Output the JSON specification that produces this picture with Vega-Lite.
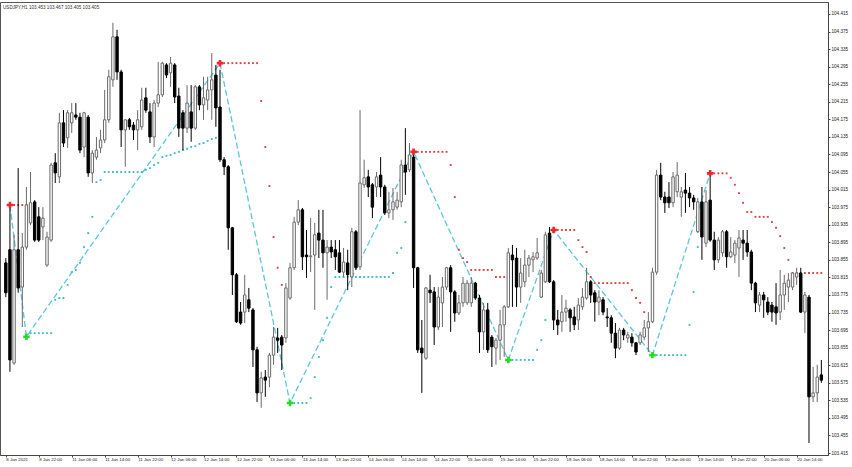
{
"$schema":"https://vega.github.io/schema/vega-lite/v6.json",
"width":828,"height":453,
"autosize":{"type":"none"},
"padding":{"left":0,"top":2,"right":24,"bottom":12},
"background":"#ffffff",
"title":{"text":"USDJPY,H1  103.453 103.467 103.405 103.405","anchor":"start","frame":"group","orient":"top","baseline":"top","offset":-8,"dx":3,"fontSize":4.6,"font":"Liberation Sans","fontWeight":"normal","color":"#333333"},
"config":{"view":{"stroke":"#555555","strokeWidth":1},"axis":{"grid":false,"domainColor":"#444444","tickColor":"#444444","labelFont":"Liberation Sans","labelColor":"#222222","title":null}},
"resolve":{"scale":{"color":"independent"}},
"datasets":{
"candles":[
{"i":0,"o":103.848,"h":103.859,"l":103.770,"c":103.780},
{"i":1,"o":103.878,"h":103.973,"l":103.600,"c":103.627},
{"i":2,"o":103.620,"h":103.912,"l":103.616,"c":103.878},
{"i":3,"o":103.878,"h":104.064,"l":103.780,"c":103.791},
{"i":4,"o":103.793,"h":103.916,"l":103.702,"c":103.884},
{"i":5,"o":103.884,"h":104.021,"l":103.878,"c":103.980},
{"i":6,"o":103.939,"h":104.055,"l":103.934,"c":103.985},
{"i":7,"o":103.987,"h":103.991,"l":103.896,"c":103.900},
{"i":8,"o":103.953,"h":103.975,"l":103.896,"c":103.900},
{"i":9,"o":103.930,"h":103.975,"l":103.900,"c":103.950},
{"i":10,"o":103.843,"h":103.919,"l":103.839,"c":103.907},
{"i":11,"o":103.900,"h":104.076,"l":103.896,"c":104.071},
{"i":12,"o":104.076,"h":104.098,"l":104.030,"c":104.053},
{"i":13,"o":104.044,"h":104.190,"l":104.030,"c":104.167},
{"i":14,"o":104.167,"h":104.196,"l":104.112,"c":104.121},
{"i":15,"o":104.133,"h":104.196,"l":104.110,"c":104.190},
{"i":16,"o":104.167,"h":104.212,"l":104.144,"c":104.190},
{"i":17,"o":104.185,"h":104.212,"l":104.174,"c":104.180},
{"i":18,"o":104.180,"h":104.190,"l":104.098,"c":104.105},
{"i":19,"o":104.112,"h":104.192,"l":104.089,"c":104.190},
{"i":20,"o":104.180,"h":104.185,"l":104.044,"c":104.053},
{"i":21,"o":104.053,"h":104.105,"l":104.030,"c":104.098},
{"i":22,"o":104.089,"h":104.135,"l":104.083,"c":104.105},
{"i":23,"o":104.110,"h":104.151,"l":104.098,"c":104.128},
{"i":24,"o":104.128,"h":104.242,"l":104.121,"c":104.174},
{"i":25,"o":104.174,"h":104.288,"l":104.167,"c":104.272},
{"i":26,"o":104.265,"h":104.395,"l":104.249,"c":104.363},
{"i":27,"o":104.363,"h":104.379,"l":104.265,"c":104.283},
{"i":28,"o":104.283,"h":104.288,"l":104.112,"c":104.151},
{"i":29,"o":104.151,"h":104.174,"l":104.067,"c":104.174},
{"i":30,"o":104.174,"h":104.178,"l":104.151,"c":104.158},
{"i":31,"o":104.162,"h":104.169,"l":104.128,"c":104.151},
{"i":32,"o":104.151,"h":104.196,"l":104.105,"c":104.174},
{"i":33,"o":104.158,"h":104.247,"l":104.151,"c":104.219},
{"i":34,"o":104.224,"h":104.247,"l":104.190,"c":104.196},
{"i":35,"o":104.192,"h":104.212,"l":104.121,"c":104.135},
{"i":36,"o":104.135,"h":104.219,"l":104.112,"c":104.212},
{"i":37,"o":104.212,"h":104.306,"l":104.203,"c":104.231},
{"i":38,"o":104.231,"h":104.306,"l":104.226,"c":104.303},
{"i":39,"o":104.299,"h":104.303,"l":104.269,"c":104.276},
{"i":40,"o":104.281,"h":104.317,"l":104.249,"c":104.303},
{"i":41,"o":104.299,"h":104.303,"l":104.212,"c":104.226},
{"i":42,"o":104.228,"h":104.247,"l":104.135,"c":104.155},
{"i":43,"o":104.190,"h":104.196,"l":104.105,"c":104.155},
{"i":44,"o":104.155,"h":104.253,"l":104.144,"c":104.212},
{"i":45,"o":104.192,"h":104.253,"l":104.124,"c":104.155},
{"i":46,"o":104.155,"h":104.253,"l":104.151,"c":104.249},
{"i":47,"o":104.249,"h":104.253,"l":104.196,"c":104.208},
{"i":48,"o":104.208,"h":104.272,"l":104.174,"c":104.224},
{"i":49,"o":104.219,"h":104.272,"l":104.196,"c":104.242},
{"i":50,"o":104.242,"h":104.326,"l":104.174,"c":104.265},
{"i":51,"o":104.276,"h":104.299,"l":104.158,"c":104.201},
{"i":52,"o":104.203,"h":104.288,"l":104.078,"c":104.083},
{"i":53,"o":104.083,"h":104.089,"l":104.048,"c":104.067},
{"i":54,"o":104.067,"h":104.071,"l":103.878,"c":103.928},
{"i":55,"o":103.928,"h":103.930,"l":103.775,"c":103.821},
{"i":56,"o":103.821,"h":103.825,"l":103.711,"c":103.714},
{"i":57,"o":103.736,"h":103.759,"l":103.707,"c":103.711},
{"i":58,"o":103.736,"h":103.821,"l":103.711,"c":103.775},
{"i":59,"o":103.764,"h":103.791,"l":103.736,"c":103.745},
{"i":60,"o":103.741,"h":103.745,"l":103.611,"c":103.650},
{"i":61,"o":103.650,"h":103.657,"l":103.531,"c":103.552},
{"i":62,"o":103.552,"h":103.600,"l":103.518,"c":103.586},
{"i":63,"o":103.588,"h":103.604,"l":103.543,"c":103.581},
{"i":64,"o":103.588,"h":103.643,"l":103.565,"c":103.638},
{"i":65,"o":103.638,"h":103.702,"l":103.616,"c":103.679},
{"i":66,"o":103.677,"h":103.700,"l":103.643,"c":103.672},
{"i":67,"o":103.679,"h":103.684,"l":103.604,"c":103.661},
{"i":68,"o":103.677,"h":103.802,"l":103.666,"c":103.791},
{"i":69,"o":103.768,"h":103.848,"l":103.764,"c":103.837},
{"i":70,"o":103.837,"h":103.953,"l":103.832,"c":103.941},
{"i":71,"o":103.941,"h":103.991,"l":103.934,"c":103.969},
{"i":72,"o":103.969,"h":103.973,"l":103.832,"c":103.862},
{"i":73,"o":103.866,"h":103.923,"l":103.814,"c":103.862},
{"i":74,"o":103.862,"h":103.950,"l":103.827,"c":103.864},
{"i":75,"o":103.866,"h":103.939,"l":103.741,"c":103.912},
{"i":76,"o":103.916,"h":103.969,"l":103.859,"c":103.900},
{"i":77,"o":103.900,"h":103.969,"l":103.837,"c":103.871},
{"i":78,"o":103.871,"h":103.900,"l":103.764,"c":103.884},
{"i":79,"o":103.884,"h":103.900,"l":103.859,"c":103.873},
{"i":80,"o":103.878,"h":103.900,"l":103.832,"c":103.862},
{"i":81,"o":103.871,"h":103.900,"l":103.825,"c":103.827},
{"i":82,"o":103.827,"h":103.882,"l":103.816,"c":103.850},
{"i":83,"o":103.848,"h":103.878,"l":103.786,"c":103.821},
{"i":84,"o":103.816,"h":103.928,"l":103.793,"c":103.919},
{"i":85,"o":103.919,"h":103.923,"l":103.832,"c":103.837},
{"i":86,"o":103.839,"h":104.196,"l":103.832,"c":104.030},
{"i":87,"o":104.026,"h":104.083,"l":104.019,"c":104.042},
{"i":88,"o":104.044,"h":104.060,"l":103.998,"c":104.021},
{"i":89,"o":104.026,"h":104.030,"l":103.950,"c":103.975},
{"i":90,"o":104.021,"h":104.055,"l":103.998,"c":104.044},
{"i":91,"o":104.048,"h":104.089,"l":103.998,"c":104.021},
{"i":92,"o":104.021,"h":104.026,"l":103.957,"c":103.962},
{"i":93,"o":103.962,"h":104.010,"l":103.950,"c":103.969},
{"i":94,"o":103.969,"h":104.019,"l":103.946,"c":103.987},
{"i":95,"o":103.975,"h":104.010,"l":103.969,"c":103.991},
{"i":96,"o":103.987,"h":104.083,"l":103.975,"c":104.071},
{"i":97,"o":104.071,"h":104.155,"l":104.003,"c":104.055},
{"i":98,"o":104.060,"h":104.121,"l":104.055,"c":104.094},
{"i":99,"o":104.089,"h":104.105,"l":103.791,"c":103.837},
{"i":100,"o":103.837,"h":103.839,"l":103.643,"c":103.650},
{"i":101,"o":103.654,"h":103.718,"l":103.552,"c":103.643},
{"i":102,"o":103.631,"h":103.793,"l":103.627,"c":103.791},
{"i":103,"o":103.786,"h":103.821,"l":103.757,"c":103.780},
{"i":104,"o":103.782,"h":103.793,"l":103.661,"c":103.702},
{"i":105,"o":103.702,"h":103.793,"l":103.695,"c":103.770},
{"i":106,"o":103.757,"h":103.816,"l":103.702,"c":103.793},
{"i":107,"o":103.793,"h":103.839,"l":103.786,"c":103.837},
{"i":108,"o":103.837,"h":103.843,"l":103.691,"c":103.782},
{"i":109,"o":103.782,"h":103.786,"l":103.714,"c":103.734},
{"i":110,"o":103.734,"h":103.775,"l":103.729,"c":103.757},
{"i":111,"o":103.757,"h":103.816,"l":103.748,"c":103.802},
{"i":112,"o":103.757,"h":103.809,"l":103.752,"c":103.802},
{"i":113,"o":103.757,"h":103.816,"l":103.748,"c":103.802},
{"i":114,"o":103.802,"h":103.805,"l":103.764,"c":103.768},
{"i":115,"o":103.768,"h":103.775,"l":103.643,"c":103.691},
{"i":116,"o":103.691,"h":103.757,"l":103.650,"c":103.741},
{"i":117,"o":103.741,"h":103.757,"l":103.643,"c":103.650},
{"i":118,"o":103.679,"h":103.684,"l":103.611,"c":103.657},
{"i":119,"o":103.654,"h":103.677,"l":103.616,"c":103.672},
{"i":120,"o":103.672,"h":103.741,"l":103.627,"c":103.707},
{"i":121,"o":103.707,"h":103.752,"l":103.634,"c":103.748},
{"i":122,"o":103.748,"h":103.882,"l":103.745,"c":103.871},
{"i":123,"o":103.866,"h":103.889,"l":103.748,"c":103.855},
{"i":124,"o":103.859,"h":103.882,"l":103.748,"c":103.793},
{"i":125,"o":103.793,"h":103.859,"l":103.757,"c":103.825},
{"i":126,"o":103.805,"h":103.878,"l":103.793,"c":103.843},
{"i":127,"o":103.843,"h":103.866,"l":103.816,"c":103.859},
{"i":128,"o":103.855,"h":103.873,"l":103.827,"c":103.862},
{"i":129,"o":103.859,"h":103.905,"l":103.855,"c":103.871},
{"i":130,"o":103.770,"h":103.832,"l":103.768,"c":103.825},
{"i":131,"o":103.805,"h":103.919,"l":103.802,"c":103.912},
{"i":132,"o":103.916,"h":103.930,"l":103.802,"c":103.805},
{"i":133,"o":103.805,"h":103.809,"l":103.695,"c":103.718},
{"i":134,"o":103.718,"h":103.741,"l":103.684,"c":103.707},
{"i":135,"o":103.714,"h":103.775,"l":103.691,"c":103.736},
{"i":136,"o":103.736,"h":103.764,"l":103.714,"c":103.745},
{"i":137,"o":103.741,"h":103.745,"l":103.691,"c":103.723},
{"i":138,"o":103.725,"h":103.748,"l":103.695,"c":103.707},
{"i":139,"o":103.718,"h":103.768,"l":103.695,"c":103.752},
{"i":140,"o":103.748,"h":103.791,"l":103.741,"c":103.770},
{"i":141,"o":103.768,"h":103.837,"l":103.764,"c":103.805},
{"i":142,"o":103.805,"h":103.809,"l":103.757,"c":103.775},
{"i":143,"o":103.780,"h":103.786,"l":103.714,"c":103.759},
{"i":144,"o":103.759,"h":103.786,"l":103.729,"c":103.770},
{"i":145,"o":103.764,"h":103.770,"l":103.729,"c":103.736},
{"i":146,"o":103.725,"h":103.745,"l":103.702,"c":103.723},
{"i":147,"o":103.723,"h":103.729,"l":103.666,"c":103.688},
{"i":148,"o":103.688,"h":103.711,"l":103.631,"c":103.654},
{"i":149,"o":103.654,"h":103.700,"l":103.650,"c":103.695},
{"i":150,"o":103.695,"h":103.700,"l":103.672,"c":103.684},
{"i":151,"o":103.677,"h":103.691,"l":103.666,"c":103.684},
{"i":152,"o":103.679,"h":103.688,"l":103.657,"c":103.666},
{"i":153,"o":103.666,"h":103.668,"l":103.638,"c":103.645},
{"i":154,"o":103.666,"h":103.691,"l":103.661,"c":103.684},
{"i":155,"o":103.679,"h":103.718,"l":103.672,"c":103.700},
{"i":156,"o":103.700,"h":103.736,"l":103.645,"c":103.714},
{"i":157,"o":103.714,"h":103.837,"l":103.711,"c":103.827},
{"i":158,"o":103.827,"h":104.060,"l":103.821,"c":104.048},
{"i":159,"o":104.048,"h":104.076,"l":103.991,"c":103.998},
{"i":160,"o":103.998,"h":104.010,"l":103.962,"c":103.985},
{"i":161,"o":103.998,"h":104.032,"l":103.973,"c":103.985},
{"i":162,"o":103.985,"h":104.055,"l":103.975,"c":104.044},
{"i":163,"o":104.010,"h":104.078,"l":103.998,"c":104.048},
{"i":164,"o":103.998,"h":104.021,"l":103.953,"c":104.010},
{"i":165,"o":104.014,"h":104.053,"l":103.962,"c":104.007},
{"i":166,"o":104.007,"h":104.021,"l":103.975,"c":103.996},
{"i":167,"o":103.996,"h":104.003,"l":103.969,"c":103.987},
{"i":168,"o":103.919,"h":103.996,"l":103.916,"c":103.987},
{"i":169,"o":103.987,"h":104.021,"l":103.855,"c":103.907},
{"i":170,"o":103.893,"h":104.014,"l":103.884,"c":103.987},
{"i":171,"o":103.991,"h":104.053,"l":103.896,"c":103.900},
{"i":172,"o":103.900,"h":103.919,"l":103.832,"c":103.855},
{"i":173,"o":103.855,"h":103.907,"l":103.848,"c":103.900},
{"i":174,"o":103.871,"h":103.923,"l":103.862,"c":103.919},
{"i":175,"o":103.919,"h":103.923,"l":103.837,"c":103.862},
{"i":176,"o":103.862,"h":103.907,"l":103.859,"c":103.873},
{"i":177,"o":103.866,"h":103.900,"l":103.848,"c":103.893},
{"i":178,"o":103.882,"h":103.923,"l":103.816,"c":103.905},
{"i":179,"o":103.900,"h":103.923,"l":103.855,"c":103.893},
{"i":180,"o":103.893,"h":103.923,"l":103.862,"c":103.873},
{"i":181,"o":103.873,"h":103.878,"l":103.786,"c":103.802},
{"i":182,"o":103.802,"h":103.805,"l":103.736,"c":103.757},
{"i":183,"o":103.752,"h":103.782,"l":103.736,"c":103.775},
{"i":184,"o":103.775,"h":103.782,"l":103.723,"c":103.764},
{"i":185,"o":103.759,"h":103.770,"l":103.729,"c":103.736},
{"i":186,"o":103.752,"h":103.759,"l":103.714,"c":103.736},
{"i":187,"o":103.748,"h":103.802,"l":103.707,"c":103.734},
{"i":188,"o":103.736,"h":103.832,"l":103.718,"c":103.775},
{"i":189,"o":103.775,"h":103.821,"l":103.741,"c":103.802},
{"i":190,"o":103.793,"h":103.825,"l":103.759,"c":103.809},
{"i":191,"o":103.793,"h":103.827,"l":103.786,"c":103.825},
{"i":192,"o":103.816,"h":103.837,"l":103.798,"c":103.825},
{"i":193,"o":103.825,"h":103.837,"l":103.734,"c":103.736},
{"i":194,"o":103.736,"h":103.782,"l":103.688,"c":103.775},
{"i":195,"o":103.770,"h":103.775,"l":103.438,"c":103.543},
{"i":196,"o":103.543,"h":103.611,"l":103.531,"c":103.552},
{"i":197,"o":103.552,"h":103.616,"l":103.531,"c":103.588},
{"i":198,"o":103.593,"h":103.627,"l":103.575,"c":103.581}
],
"zigzag":[
{"i":1,"p":103.980,"t":"H"},{"i":5,"p":103.680,"t":"L"},{"i":52,"p":104.303,"t":"H"},{"i":69,"p":103.529,"t":"L"},{"i":99,"p":104.101,"t":"H"},{"i":122,"p":103.627,"t":"L"},{"i":133,"p":103.923,"t":"H"},{"i":157,"p":103.638,"t":"L"},{"i":171,"p":104.052,"t":"H"}
],
"stops":[
{"i":2,"p":103.980,"s":"dn"},{"i":3,"p":103.980,"s":"dn"},{"i":4,"p":103.980,"s":"dn"},{"i":5,"p":103.980,"s":"dn"},{"i":6,"p":103.980,"s":"dn"},{"i":7,"p":103.980,"s":"dn"},
{"i":53,"p":104.303,"s":"dn"},{"i":54,"p":104.303,"s":"dn"},{"i":55,"p":104.303,"s":"dn"},{"i":56,"p":104.303,"s":"dn"},{"i":57,"p":104.303,"s":"dn"},{"i":58,"p":104.303,"s":"dn"},{"i":59,"p":104.303,"s":"dn"},{"i":60,"p":104.303,"s":"dn"},{"i":61,"p":104.303,"s":"dn"},
{"i":62,"p":104.217,"s":"dn"},{"i":63,"p":104.112,"s":"dn"},{"i":64,"p":104.023,"s":"dn"},{"i":65,"p":103.907,"s":"dn"},{"i":66,"p":103.837,"s":"dn"},{"i":67,"p":103.798,"s":"dn"},
{"i":100,"p":104.101,"s":"dn"},{"i":101,"p":104.101,"s":"dn"},{"i":102,"p":104.101,"s":"dn"},{"i":103,"p":104.101,"s":"dn"},{"i":104,"p":104.101,"s":"dn"},{"i":105,"p":104.101,"s":"dn"},{"i":106,"p":104.101,"s":"dn"},{"i":107,"p":104.101,"s":"dn"},
{"i":108,"p":104.071,"s":"dn"},{"i":109,"p":103.998,"s":"dn"},{"i":110,"p":103.878,"s":"dn"},{"i":111,"p":103.859,"s":"dn"},{"i":112,"p":103.850,"s":"dn"},
{"i":113,"p":103.832,"s":"dn"},{"i":114,"p":103.832,"s":"dn"},{"i":115,"p":103.832,"s":"dn"},{"i":116,"p":103.832,"s":"dn"},{"i":117,"p":103.832,"s":"dn"},{"i":118,"p":103.832,"s":"dn"},
{"i":119,"p":103.816,"s":"dn"},{"i":120,"p":103.816,"s":"dn"},{"i":121,"p":103.816,"s":"dn"},
{"i":134,"p":103.923,"s":"dn"},{"i":135,"p":103.923,"s":"dn"},{"i":136,"p":103.923,"s":"dn"},{"i":137,"p":103.923,"s":"dn"},{"i":138,"p":103.923,"s":"dn"},
{"i":139,"p":103.900,"s":"dn"},{"i":140,"p":103.884,"s":"dn"},{"i":141,"p":103.873,"s":"dn"},{"i":142,"p":103.816,"s":"dn"},
{"i":143,"p":103.802,"s":"dn"},{"i":144,"p":103.802,"s":"dn"},{"i":145,"p":103.802,"s":"dn"},{"i":146,"p":103.802,"s":"dn"},{"i":147,"p":103.802,"s":"dn"},{"i":148,"p":103.802,"s":"dn"},{"i":149,"p":103.802,"s":"dn"},{"i":150,"p":103.802,"s":"dn"},{"i":151,"p":103.802,"s":"dn"},
{"i":152,"p":103.786,"s":"dn"},{"i":153,"p":103.768,"s":"dn"},{"i":154,"p":103.757,"s":"dn"},{"i":155,"p":103.736,"s":"dn"},
{"i":172,"p":104.052,"s":"dn"},{"i":173,"p":104.052,"s":"dn"},{"i":174,"p":104.052,"s":"dn"},{"i":175,"p":104.052,"s":"dn"},
{"i":176,"p":104.042,"s":"dn"},{"i":177,"p":104.026,"s":"dn"},{"i":178,"p":104.007,"s":"dn"},{"i":179,"p":103.985,"s":"dn"},{"i":180,"p":103.964,"s":"dn"},{"i":181,"p":103.964,"s":"dn"},
{"i":182,"p":103.953,"s":"dn"},{"i":183,"p":103.953,"s":"dn"},{"i":184,"p":103.953,"s":"dn"},{"i":185,"p":103.953,"s":"dn"},
{"i":186,"p":103.941,"s":"dn"},{"i":187,"p":103.928,"s":"dn"},{"i":188,"p":103.909,"s":"dn"},{"i":189,"p":103.882,"s":"dn"},{"i":190,"p":103.855,"s":"dn"},
{"i":191,"p":103.825,"s":"dn"},{"i":192,"p":103.825,"s":"dn"},{"i":193,"p":103.825,"s":"dn"},{"i":194,"p":103.825,"s":"dn"},{"i":195,"p":103.825,"s":"dn"},{"i":196,"p":103.825,"s":"dn"},{"i":197,"p":103.825,"s":"dn"},{"i":198,"p":103.825,"s":"dn"},
{"i":6,"p":103.688,"s":"up"},{"i":7,"p":103.688,"s":"up"},{"i":8,"p":103.688,"s":"up"},{"i":9,"p":103.688,"s":"up"},{"i":10,"p":103.688,"s":"up"},{"i":11,"p":103.688,"s":"up"},
{"i":12,"p":103.764,"s":"up"},{"i":13,"p":103.768,"s":"up"},{"i":14,"p":103.768,"s":"up"},{"i":15,"p":103.798,"s":"up"},{"i":16,"p":103.827,"s":"up"},{"i":17,"p":103.832,"s":"up"},{"i":18,"p":103.848,"s":"up"},{"i":19,"p":103.884,"s":"up"},{"i":20,"p":103.916,"s":"up"},{"i":21,"p":103.953,"s":"up"},{"i":22,"p":104.032,"s":"up"},{"i":23,"p":104.037,"s":"up"},
{"i":24,"p":104.055,"s":"up"},{"i":25,"p":104.055,"s":"up"},{"i":26,"p":104.055,"s":"up"},{"i":27,"p":104.055,"s":"up"},{"i":28,"p":104.055,"s":"up"},{"i":29,"p":104.055,"s":"up"},{"i":30,"p":104.055,"s":"up"},{"i":31,"p":104.055,"s":"up"},{"i":32,"p":104.055,"s":"up"},{"i":33,"p":104.055,"s":"up"},
{"i":34,"p":104.060,"s":"up"},{"i":35,"p":104.064,"s":"up"},{"i":36,"p":104.071,"s":"up"},{"i":37,"p":104.076,"s":"up"},{"i":38,"p":104.089,"s":"up"},{"i":39,"p":104.092,"s":"up"},{"i":40,"p":104.094,"s":"up"},{"i":41,"p":104.098,"s":"up"},{"i":42,"p":104.101,"s":"up"},{"i":43,"p":104.105,"s":"up"},{"i":44,"p":104.108,"s":"up"},{"i":45,"p":104.112,"s":"up"},{"i":46,"p":104.114,"s":"up"},{"i":47,"p":104.119,"s":"up"},{"i":48,"p":104.121,"s":"up"},{"i":49,"p":104.126,"s":"up"},{"i":50,"p":104.130,"s":"up"},{"i":51,"p":104.133,"s":"up"},
{"i":70,"p":103.529,"s":"up"},{"i":71,"p":103.529,"s":"up"},{"i":72,"p":103.529,"s":"up"},{"i":73,"p":103.529,"s":"up"},
{"i":74,"p":103.540,"s":"up"},{"i":75,"p":103.588,"s":"up"},{"i":76,"p":103.634,"s":"up"},{"i":77,"p":103.672,"s":"up"},{"i":78,"p":103.723,"s":"up"},{"i":79,"p":103.793,"s":"up"},
{"i":80,"p":103.816,"s":"up"},{"i":81,"p":103.816,"s":"up"},{"i":82,"p":103.816,"s":"up"},{"i":83,"p":103.816,"s":"up"},{"i":84,"p":103.816,"s":"up"},{"i":85,"p":103.816,"s":"up"},{"i":86,"p":103.816,"s":"up"},{"i":87,"p":103.816,"s":"up"},{"i":88,"p":103.816,"s":"up"},{"i":89,"p":103.816,"s":"up"},{"i":90,"p":103.816,"s":"up"},{"i":91,"p":103.816,"s":"up"},{"i":92,"p":103.816,"s":"up"},{"i":93,"p":103.816,"s":"up"},
{"i":94,"p":103.825,"s":"up"},{"i":95,"p":103.871,"s":"up"},{"i":96,"p":103.882,"s":"up"},{"i":97,"p":103.941,"s":"up"},
{"i":123,"p":103.627,"s":"up"},{"i":124,"p":103.627,"s":"up"},{"i":125,"p":103.627,"s":"up"},{"i":126,"p":103.627,"s":"up"},{"i":127,"p":103.627,"s":"up"},{"i":128,"p":103.627,"s":"up"},
{"i":129,"p":103.650,"s":"up"},{"i":130,"p":103.672,"s":"up"},{"i":131,"p":103.718,"s":"up"},
{"i":158,"p":103.638,"s":"up"},{"i":159,"p":103.638,"s":"up"},{"i":160,"p":103.638,"s":"up"},{"i":161,"p":103.638,"s":"up"},{"i":162,"p":103.638,"s":"up"},{"i":163,"p":103.638,"s":"up"},{"i":164,"p":103.638,"s":"up"},{"i":165,"p":103.638,"s":"up"},
{"i":166,"p":103.707,"s":"up"},{"i":167,"p":103.782,"s":"up"},{"i":168,"p":103.884,"s":"up"}
]
},
"encoding":{
"x":{"field":"i","type":"quantitative","scale":{"domain":[-0.2,198.4],"nice":false,"zero":false},
"axis":{"orient":"bottom","title":null,"values":[0,8,16,24,32,40,48,56,64,72,80,88,96,104,112,120,128,136,144,152,160,168,176,184,192],
"labelExpr":"['8 Jan 2021','8 Jan 22:00','11 Jan 06:00','11 Jan 14:00','11 Jan 22:00','12 Jan 06:00','12 Jan 14:00','12 Jan 22:00','13 Jan 06:00','13 Jan 14:00','13 Jan 22:00','14 Jan 06:00','14 Jan 14:00','14 Jan 22:00','15 Jan 06:00','15 Jan 14:00','15 Jan 22:00','18 Jan 06:00','18 Jan 14:00','18 Jan 22:00','19 Jan 06:00','19 Jan 14:00','19 Jan 22:00','20 Jan 06:00','20 Jan 14:00'][round(datum.value/8)]",
"labelAlign":"left","labelBaseline":"top","labelPadding":0,"tickSize":2,"labelFontSize":4.4,"labelOverlap":false,"labelFlush":false,"labelBound":false}}
},
"layer":[
{"data":{"name":"zigzag"},"mark":{"type":"line","color":"#5cc6d8","strokeWidth":1.3,"strokeDash":[6,3]},
"encoding":{"y":{"field":"p","type":"quantitative","scale":{"domain":[103.4105,104.4423],"nice":false,"zero":false},
"axis":{"orient":"right","title":null,"values":[104.415,104.375,104.335,104.295,104.255,104.215,104.175,104.135,104.095,104.055,104.015,103.975,103.935,103.895,103.855,103.815,103.775,103.735,103.695,103.655,103.615,103.575,103.535,103.495,103.455,103.415],"format":".3f","tickSize":2,"labelPadding":1,"labelFontSize":4.6,"labelOverlap":false}}}},
{"data":{"name":"stops"},"mark":{"type":"point","shape":"square","filled":true,"size":3.5,"opacity":1},
"encoding":{"y":{"field":"p","type":"quantitative","scale":{"domain":[103.4105,104.4423],"nice":false,"zero":false},
"axis":{"orient":"right","title":null,"values":[104.415,104.375,104.335,104.295,104.255,104.215,104.175,104.135,104.095,104.055,104.015,103.975,103.935,103.895,103.855,103.815,103.775,103.735,103.695,103.655,103.615,103.575,103.535,103.495,103.455,103.415],"format":".3f","tickSize":2,"labelPadding":1,"labelFontSize":4.6,"labelOverlap":false}},
"color":{"field":"s","type":"nominal","scale":{"domain":["dn","up"],"range":["#d84040","#40b8cc"]},"legend":null}}},
{"data":{"name":"candles"},"mark":{"type":"rule","strokeWidth":1},
"encoding":{"y":{"field":"l","type":"quantitative","scale":{"domain":[103.4105,104.4423],"nice":false,"zero":false},
"axis":{"orient":"right","title":null,"values":[104.415,104.375,104.335,104.295,104.255,104.215,104.175,104.135,104.095,104.055,104.015,103.975,103.935,103.895,103.855,103.815,103.775,103.735,103.695,103.655,103.615,103.575,103.535,103.495,103.455,103.415],"format":".3f","tickSize":2,"labelPadding":1,"labelFontSize":4.6,"labelOverlap":false}},"y2":{"field":"h"},
"color":{"condition":{"test":"datum.c >= datum.o","value":"#6a6a6a"},"value":"#000000"}}},
{"data":{"name":"candles"},"mark":{"type":"bar","width":2.4,"strokeWidth":1},
"encoding":{"y":{"field":"o","type":"quantitative","scale":{"domain":[103.4105,104.4423],"nice":false,"zero":false},
"axis":{"orient":"right","title":null,"values":[104.415,104.375,104.335,104.295,104.255,104.215,104.175,104.135,104.095,104.055,104.015,103.975,103.935,103.895,103.855,103.815,103.775,103.735,103.695,103.655,103.615,103.575,103.535,103.495,103.455,103.415],"format":".3f","tickSize":2,"labelPadding":1,"labelFontSize":4.6,"labelOverlap":false}},"y2":{"field":"c"},
"fill":{"condition":{"test":"datum.c >= datum.o","value":"#ffffff"},"value":"#000000"},
"stroke":{"condition":{"test":"datum.c >= datum.o","value":"#6a6a6a"},"value":"#000000"}}},
{"data":{"name":"zigzag"},"mark":{"type":"point","shape":"cross","filled":true,"size":42,"opacity":1},
"encoding":{"y":{"field":"p","type":"quantitative","scale":{"domain":[103.4105,104.4423],"nice":false,"zero":false},
"axis":{"orient":"right","title":null,"values":[104.415,104.375,104.335,104.295,104.255,104.215,104.175,104.135,104.095,104.055,104.015,103.975,103.935,103.895,103.855,103.815,103.775,103.735,103.695,103.655,103.615,103.575,103.535,103.495,103.455,103.415],"format":".3f","tickSize":2,"labelPadding":1,"labelFontSize":4.6,"labelOverlap":false}},
"color":{"field":"t","type":"nominal","scale":{"domain":["H","L"],"range":["#e8282a","#22dd22"]},"legend":null}}}
]
}
